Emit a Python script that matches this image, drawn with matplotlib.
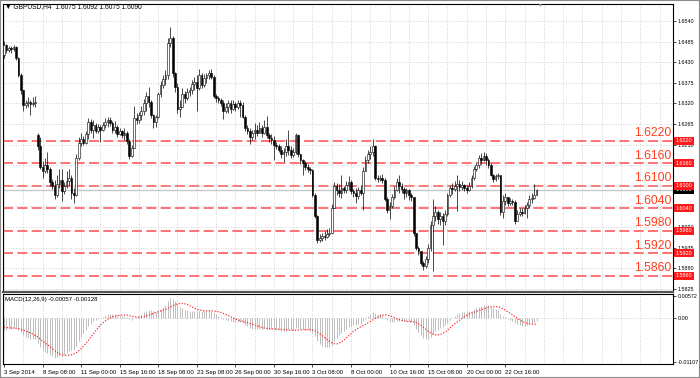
import numpy as np
import pandas as pd
import matplotlib
matplotlib.use("Agg")
import matplotlib.pyplot as plt
from matplotlib.transforms import blended_transform_factory
from matplotlib.patches import Rectangle

# GBPUSD H4 candles, 3 Sep 16:00 .. 24 Oct 2014
closes = [
    1.6475, 1.6462, 1.6468, 1.6465, 1.6470, 1.6440, 1.6395, 1.6355, 1.6315, 1.6320,  # 0
    1.6325, 1.6318, 1.6322, 1.6325, 1.6205, 1.6150, 1.6140, 1.6155, 1.6145, 1.6110,  # 10
    1.6100, 1.6075, 1.6105, 1.6115, 1.6085, 1.6100, 1.6112, 1.6120, 1.6080, 1.6075,  # 20
    1.6175, 1.6215, 1.6225, 1.6215, 1.6238, 1.6270, 1.6250, 1.6262, 1.6245, 1.6258,  # 30
    1.6250, 1.6262, 1.6270, 1.6275, 1.6268, 1.6250, 1.6258, 1.6238, 1.6245, 1.6235,  # 40
    1.6240, 1.6220, 1.6180, 1.6200, 1.6282, 1.6275, 1.6290, 1.6300, 1.6320, 1.6340,  # 50
    1.6325, 1.6290, 1.6270, 1.6285, 1.6345, 1.6370, 1.6385, 1.6395, 1.6480, 1.6495,  # 60
    1.6400, 1.6365, 1.6305, 1.6310, 1.6345, 1.6335, 1.6350, 1.6355, 1.6372, 1.6378,  # 70
    1.6360, 1.6395, 1.6370, 1.6388, 1.6395, 1.6400, 1.6390, 1.6340, 1.6335, 1.6330,  # 80
    1.6320, 1.6300, 1.6310, 1.6320, 1.6305, 1.6318, 1.6310, 1.6322, 1.6315, 1.6285,  # 90
    1.6255, 1.6245, 1.6230, 1.6240, 1.6250, 1.6242, 1.6255, 1.6240, 1.6258, 1.6235,  # 100
    1.6228, 1.6222, 1.6210, 1.6205, 1.6195, 1.6185, 1.6190, 1.6205, 1.6195, 1.6182,  # 110
    1.6190, 1.6235, 1.6185, 1.6168, 1.6160, 1.6150, 1.6145, 1.6142, 1.6075, 1.6020,  # 120
    1.5955, 1.5960, 1.5965, 1.5962, 1.5972, 1.5975, 1.6040, 1.6100, 1.6090, 1.6080,  # 130
    1.6095, 1.6090, 1.6102, 1.6110, 1.6085, 1.6080, 1.6072, 1.6088, 1.6080, 1.6140,  # 140
    1.6170, 1.6185, 1.6190, 1.6205, 1.6120, 1.6118, 1.6122, 1.6115, 1.6065, 1.6035,  # 150
    1.6045, 1.6070, 1.6090, 1.6110, 1.6100, 1.6092, 1.6080, 1.6088, 1.6075, 1.6070,  # 160
    1.5975, 1.5935, 1.5925, 1.5895, 1.5885, 1.5905, 1.5935, 1.5995, 1.6020, 1.6030,  # 170
    1.6010, 1.6020, 1.6005, 1.6025, 1.6075, 1.6095, 1.6092, 1.6100, 1.6105, 1.6098,  # 180
    1.6102, 1.6095, 1.6090, 1.6100, 1.6120, 1.6145, 1.6155, 1.6175, 1.6168, 1.6180,  # 190
    1.6170, 1.6155, 1.6130, 1.6118, 1.6125, 1.6128, 1.6030, 1.6060, 1.6070, 1.6055,  # 200
    1.6060, 1.6058, 1.6005, 1.6025, 1.6030, 1.6028, 1.6040, 1.6050, 1.6065, 1.6068,  # 210
    1.6075, 1.6090,
]
highs = [
    1.6487, 1.6478, 1.6474, 1.6472, 1.6476, 1.6472, 1.6445, 1.6400, 1.6340, 1.6330,
    1.6336, 1.6328, 1.6338, 1.6340, 1.6240, 1.6230, 1.6165, 1.6175, 1.6190, 1.6150,
    1.6118, 1.6115, 1.6130, 1.6145, 1.6145, 1.6110, 1.6140, 1.6145, 1.6130, 1.6095,
    1.6185, 1.6230, 1.6240, 1.6232, 1.6245, 1.6280, 1.6278, 1.6275, 1.6268, 1.6265,
    1.6262, 1.6270, 1.6280, 1.6285, 1.6285, 1.6272, 1.6272, 1.6262, 1.6255, 1.6250,
    1.6255, 1.6245, 1.6225, 1.6210, 1.6313, 1.6295, 1.6298, 1.6312, 1.6332, 1.6350,
    1.6363, 1.6328, 1.6292, 1.6290, 1.6350, 1.6380, 1.6395, 1.6408, 1.6495, 1.6523,
    1.6500, 1.6405, 1.6375, 1.6330, 1.6360, 1.6352, 1.6362, 1.6365, 1.6382, 1.6390,
    1.6395, 1.6413, 1.6400, 1.6398, 1.6402, 1.6410, 1.6412, 1.6395, 1.6345, 1.6340,
    1.6335, 1.6328, 1.6322, 1.6330, 1.6328, 1.6328, 1.6325, 1.6328, 1.6328, 1.6325,
    1.6290, 1.6262, 1.6255, 1.6250, 1.6268, 1.6262, 1.6270, 1.6262, 1.6275, 1.6287,
    1.6240, 1.6238, 1.6232, 1.6218, 1.6212, 1.6205, 1.6202, 1.6225, 1.6248, 1.6205,
    1.6200, 1.6242, 1.6238, 1.6185, 1.6172, 1.6165, 1.6158, 1.6150, 1.6145, 1.6080,
    1.6022, 1.5970, 1.5975, 1.5978, 1.5985, 1.5988, 1.6052, 1.6110, 1.6108, 1.6105,
    1.6128, 1.6100, 1.6112, 1.6125, 1.6115, 1.6092, 1.6095, 1.6098, 1.6102, 1.6150,
    1.6180, 1.6195, 1.6205, 1.6225, 1.6210, 1.6128, 1.6130, 1.6132, 1.6120, 1.6070,
    1.6058, 1.6078, 1.6100, 1.6122, 1.6128, 1.6108, 1.6098, 1.6095, 1.6092, 1.6082,
    1.6068, 1.5975, 1.5940, 1.5925, 1.5900, 1.5912, 1.5945, 1.6005, 1.6065, 1.6045,
    1.6035, 1.6030, 1.6028, 1.6035, 1.6080, 1.6102, 1.6108, 1.6112, 1.6128, 1.6115,
    1.6112, 1.6105, 1.6102, 1.6110, 1.6128, 1.6152, 1.6162, 1.6182, 1.6188, 1.6190,
    1.6188, 1.6175, 1.6160, 1.6132, 1.6132, 1.6135, 1.6128, 1.6075, 1.6080, 1.6070,
    1.6068, 1.6066, 1.6062, 1.6035, 1.6040, 1.6040, 1.6048, 1.6058, 1.6075, 1.6082,
    1.6105, 1.6092,
]
lows = [
    1.6440, 1.6455, 1.6458, 1.6455, 1.6460, 1.6435, 1.6390, 1.6345, 1.6300, 1.6308,
    1.6310, 1.6288, 1.6312, 1.6310, 1.6195, 1.6145, 1.6120, 1.6135, 1.6135, 1.6100,
    1.6092, 1.6065, 1.6070, 1.6095, 1.6060, 1.6078, 1.6095, 1.6100, 1.6065, 1.6055,
    1.6072, 1.6170, 1.6205, 1.6210, 1.6212, 1.6225, 1.6240, 1.6228, 1.6240, 1.6242,
    1.6218, 1.6245, 1.6255, 1.6258, 1.6260, 1.6242, 1.6240, 1.6230, 1.6235, 1.6228,
    1.6222, 1.6212, 1.6172, 1.6178, 1.6200, 1.6265, 1.6268, 1.6275, 1.6290, 1.6300,
    1.6310, 1.6280, 1.6255, 1.6258, 1.6280, 1.6338, 1.6360, 1.6370, 1.6385, 1.6470,
    1.6390, 1.6350, 1.6295, 1.6285, 1.6320, 1.6322, 1.6330, 1.6340, 1.6345, 1.6355,
    1.6300, 1.6355, 1.6360, 1.6365, 1.6375, 1.6385, 1.6385, 1.6335, 1.6325, 1.6322,
    1.6312, 1.6278, 1.6295, 1.6295, 1.6295, 1.6302, 1.6300, 1.6305, 1.6285, 1.6280,
    1.6245, 1.6238, 1.6212, 1.6222, 1.6225, 1.6232, 1.6240, 1.6230, 1.6238, 1.6228,
    1.6218, 1.6212, 1.6168, 1.6198, 1.6190, 1.6175, 1.6164, 1.6180, 1.6182, 1.6175,
    1.6178, 1.6185, 1.6178, 1.6158, 1.6128, 1.6143, 1.6138, 1.6132, 1.6070, 1.6015,
    1.5948, 1.5950, 1.5952, 1.5955, 1.5960, 1.5965, 1.5978, 1.6040, 1.6075, 1.6070,
    1.6068, 1.6080, 1.6082, 1.6090, 1.6078, 1.6070, 1.6055, 1.6065, 1.6075, 1.6035,
    1.6140, 1.6160, 1.6172, 1.6180, 1.6115, 1.6110, 1.6112, 1.6108, 1.6060, 1.6028,
    1.6010, 1.6040, 1.6065, 1.6085, 1.6082, 1.6080, 1.6065, 1.6070, 1.6062, 1.6060,
    1.5965, 1.5928, 1.5915, 1.5888, 1.5876, 1.5880, 1.5895, 1.5925, 1.5872, 1.6005,
    1.5998, 1.5995, 1.5942, 1.5995, 1.6020, 1.6070, 1.6078, 1.6085, 1.6032, 1.6085,
    1.6088, 1.6085, 1.6082, 1.6085, 1.6095, 1.6115, 1.6140, 1.6148, 1.6158, 1.6165,
    1.6155, 1.6148, 1.6125, 1.6110, 1.6112, 1.6118, 1.6022, 1.6015, 1.6048, 1.6045,
    1.6050, 1.6050, 1.5998, 1.6005, 1.6020, 1.6018, 1.6025, 1.6015, 1.6040, 1.6055,
    1.6065, 1.6075,
]
first_open = 1.6450
gap_opens = {14: 1.6235}  # Monday 8 Sep opened with a gap

levels = [1.6220, 1.6160, 1.6100, 1.6040, 1.5980, 1.5920, 1.5860]
last_price = 1.6090
price_ticks = [1.6540, 1.6485, 1.6430, 1.6375, 1.6320, 1.6265, 1.6210, 1.6155,
               1.6100, 1.6045, 1.5990, 1.5935, 1.5880, 1.5825]
date_labels = ['3 Sep 2014', '8 Sep 08:00', '11 Sep 00:00', '15 Sep 16:00',
               '18 Sep 08:00', '23 Sep 08:00', '26 Sep 00:00', '30 Sep 16:00',
               '3 Oct 08:00', '8 Oct 00:00', '10 Oct 16:00', '15 Oct 08:00',
               '20 Oct 00:00', '22 Oct 16:00']
header = '\u25bc GBPUSD,H4  1.6075 1.6092 1.6075 1.6090'
macd_title = 'MACD(12,26,9) -0.00057 -0.00128'
macd_ticks = [0.00572, 0.0, -0.01107]
macd_tick_labels = ['0.00572', '0.00', '-0.01107']

# EMA state carried in from the bars before the visible window
ema12_seed, ema26_seed, signal_seed = 1.6478, 1.6510, -0.0021

plt.rcParams['font.family'] = ['Liberation Sans', 'DejaVu Sans']
small = 4.3
axis_fs = 3.9
grid_kw = dict(color='#c4c4c4', linestyle=(0, (1, 2)), linewidth=0.6)

n = len(closes)
idx = np.arange(n)
c = np.array(closes)
o = np.r_[first_open, c[:-1]]
for k, v in gap_opens.items():
    o[k] = v
h = np.maximum(np.array(highs), np.maximum(o, c))
l = np.minimum(np.array(lows), np.minimum(o, c))


def ema(values, period, seed):
    k = 2.0 / (period + 1)
    out, prev = [], seed
    for v in values:
        prev = prev + k * (v - prev)
        out.append(prev)
    return np.array(out)


macd_main = ema(c, 12, ema12_seed) - ema(c, 26, ema26_seed)
macd_signal = pd.Series(np.r_[[signal_seed] * 8, macd_main]).rolling(9).mean().to_numpy()[8:]

fig = plt.figure(figsize=(7, 3.78), dpi=100)
ax = fig.add_axes([3 / 700, 1 - 292 / 378, 670 / 700, 288 / 378])
mx = fig.add_axes([3 / 700, 1 - 364 / 378, 670 / 700, 70 / 378])

xlim = (-0.4, 277.6)
vgrid = np.arange(0, 278, 8)

# --- price panel ---
ax.set_xlim(*xlim)
ax.set_ylim(1.58164, 1.65854)
ax.set_xticks(vgrid)
ax.set_yticks(price_ticks)
ax.grid(True, **grid_kw)
ax.tick_params(axis='x', length=0, labelbottom=False)
ax.yaxis.tick_right()
# labels sitting right under a level box are hidden by it, as in the terminal
ax.set_yticklabels(['' if min(abs(p - lv) for lv in levels) < 0.0007 else f'{p:.4f}'
                    for p in price_ticks])
ax.tick_params(axis='y', length=2, width=0.5, labelsize=axis_fs, pad=1.5)

for lv in levels:
    ax.axhline(lv, color='#ff5a5a', lw=1.2, dashes=(6, 2.6), zorder=1)
ax.axhline(last_price, color='#c8c8c8', lw=1.0, zorder=1)

ax.vlines(idx, l, h, color='black', lw=0.5, zorder=2)
bull = c >= o
body = np.maximum(np.abs(c - o), 0.00008)
ax.bar(idx, body, bottom=np.minimum(o, c), width=0.72,
       color=np.where(bull, 'white', 'black'), edgecolor='black', linewidth=0.4, zorder=3)

trans = blended_transform_factory(ax.transAxes, ax.transData)
for lv in levels:
    ax.annotate(f'{lv:.4f}', xy=(1, lv), xycoords=trans, xytext=(-1, 1.2),
                textcoords='offset points', ha='right', va='bottom',
                fontsize=8.8, color='#ff4020', zorder=6)
ax.annotate(f'{last_price:.4f}', xy=(1, last_price), xycoords=trans, xytext=(2.2, 0),
            textcoords='offset points', ha='left', va='center', fontsize=axis_fs,
            color='white', annotation_clip=False, zorder=9,
            bbox=dict(boxstyle='square,pad=0.3', fc='black', ec='none'))
for lv in levels:
    ax.annotate(f'{lv:.4f}', xy=(1, lv), xycoords=trans, xytext=(2.2, 0),
                textcoords='offset points', ha='left', va='center', fontsize=axis_fs,
                color='white', annotation_clip=False, zorder=10,
                bbox=dict(boxstyle='square,pad=0.3', fc='#ff1a1a', ec='none'))

for s in ax.spines.values():
    s.set_linewidth(0.8)
ax.spines['bottom'].set_linewidth(1.6)
ax.spines['bottom'].set_color('#555555')

# --- MACD panel ---
mx.set_xlim(*xlim)
mx.set_ylim(-0.01159, 0.00624)
mx.vlines(idx, 0, macd_main, color='#bcbcbc', lw=0.7, zorder=2)
mx.plot(idx, macd_signal, color='#ff3030', lw=0.9, linestyle=(0, (1, 1.3)), zorder=3)
for x in vgrid:
    mx.axvline(x, **grid_kw, zorder=0)
mx.axhline(0, **grid_kw, zorder=0)
mx.set_xticks(np.arange(0, 16 * len(date_labels), 16))
mx.set_xticklabels(date_labels, ha='left')
mx.tick_params(axis='x', length=2.5, width=0.5, labelsize=small, pad=1.5)
mx.yaxis.tick_right()
mx.set_yticks(macd_ticks)
mx.set_yticklabels(macd_tick_labels)
mx.tick_params(axis='y', length=2, width=0.5, labelsize=axis_fs, pad=1.5)
for s in mx.spines.values():
    s.set_linewidth(0.8)

fig.text(5 / 700, 1 - 7 / 378, header, fontsize=4.8, va='center', ha='left')
fig.text(5 / 700, 1 - 299 / 378, macd_title, fontsize=small, va='center', ha='left')
fig.text(539 / 700, 1 - 5 / 378, '\u25bc', fontsize=3.5, color='#909090', va='center', ha='center')
fig.patches.append(Rectangle((0, 0), 1, 1, transform=fig.transFigure, fill=False,
                             edgecolor='#8a8a8a', linewidth=1.5))

fig.savefig('out.png', dpi=100)
